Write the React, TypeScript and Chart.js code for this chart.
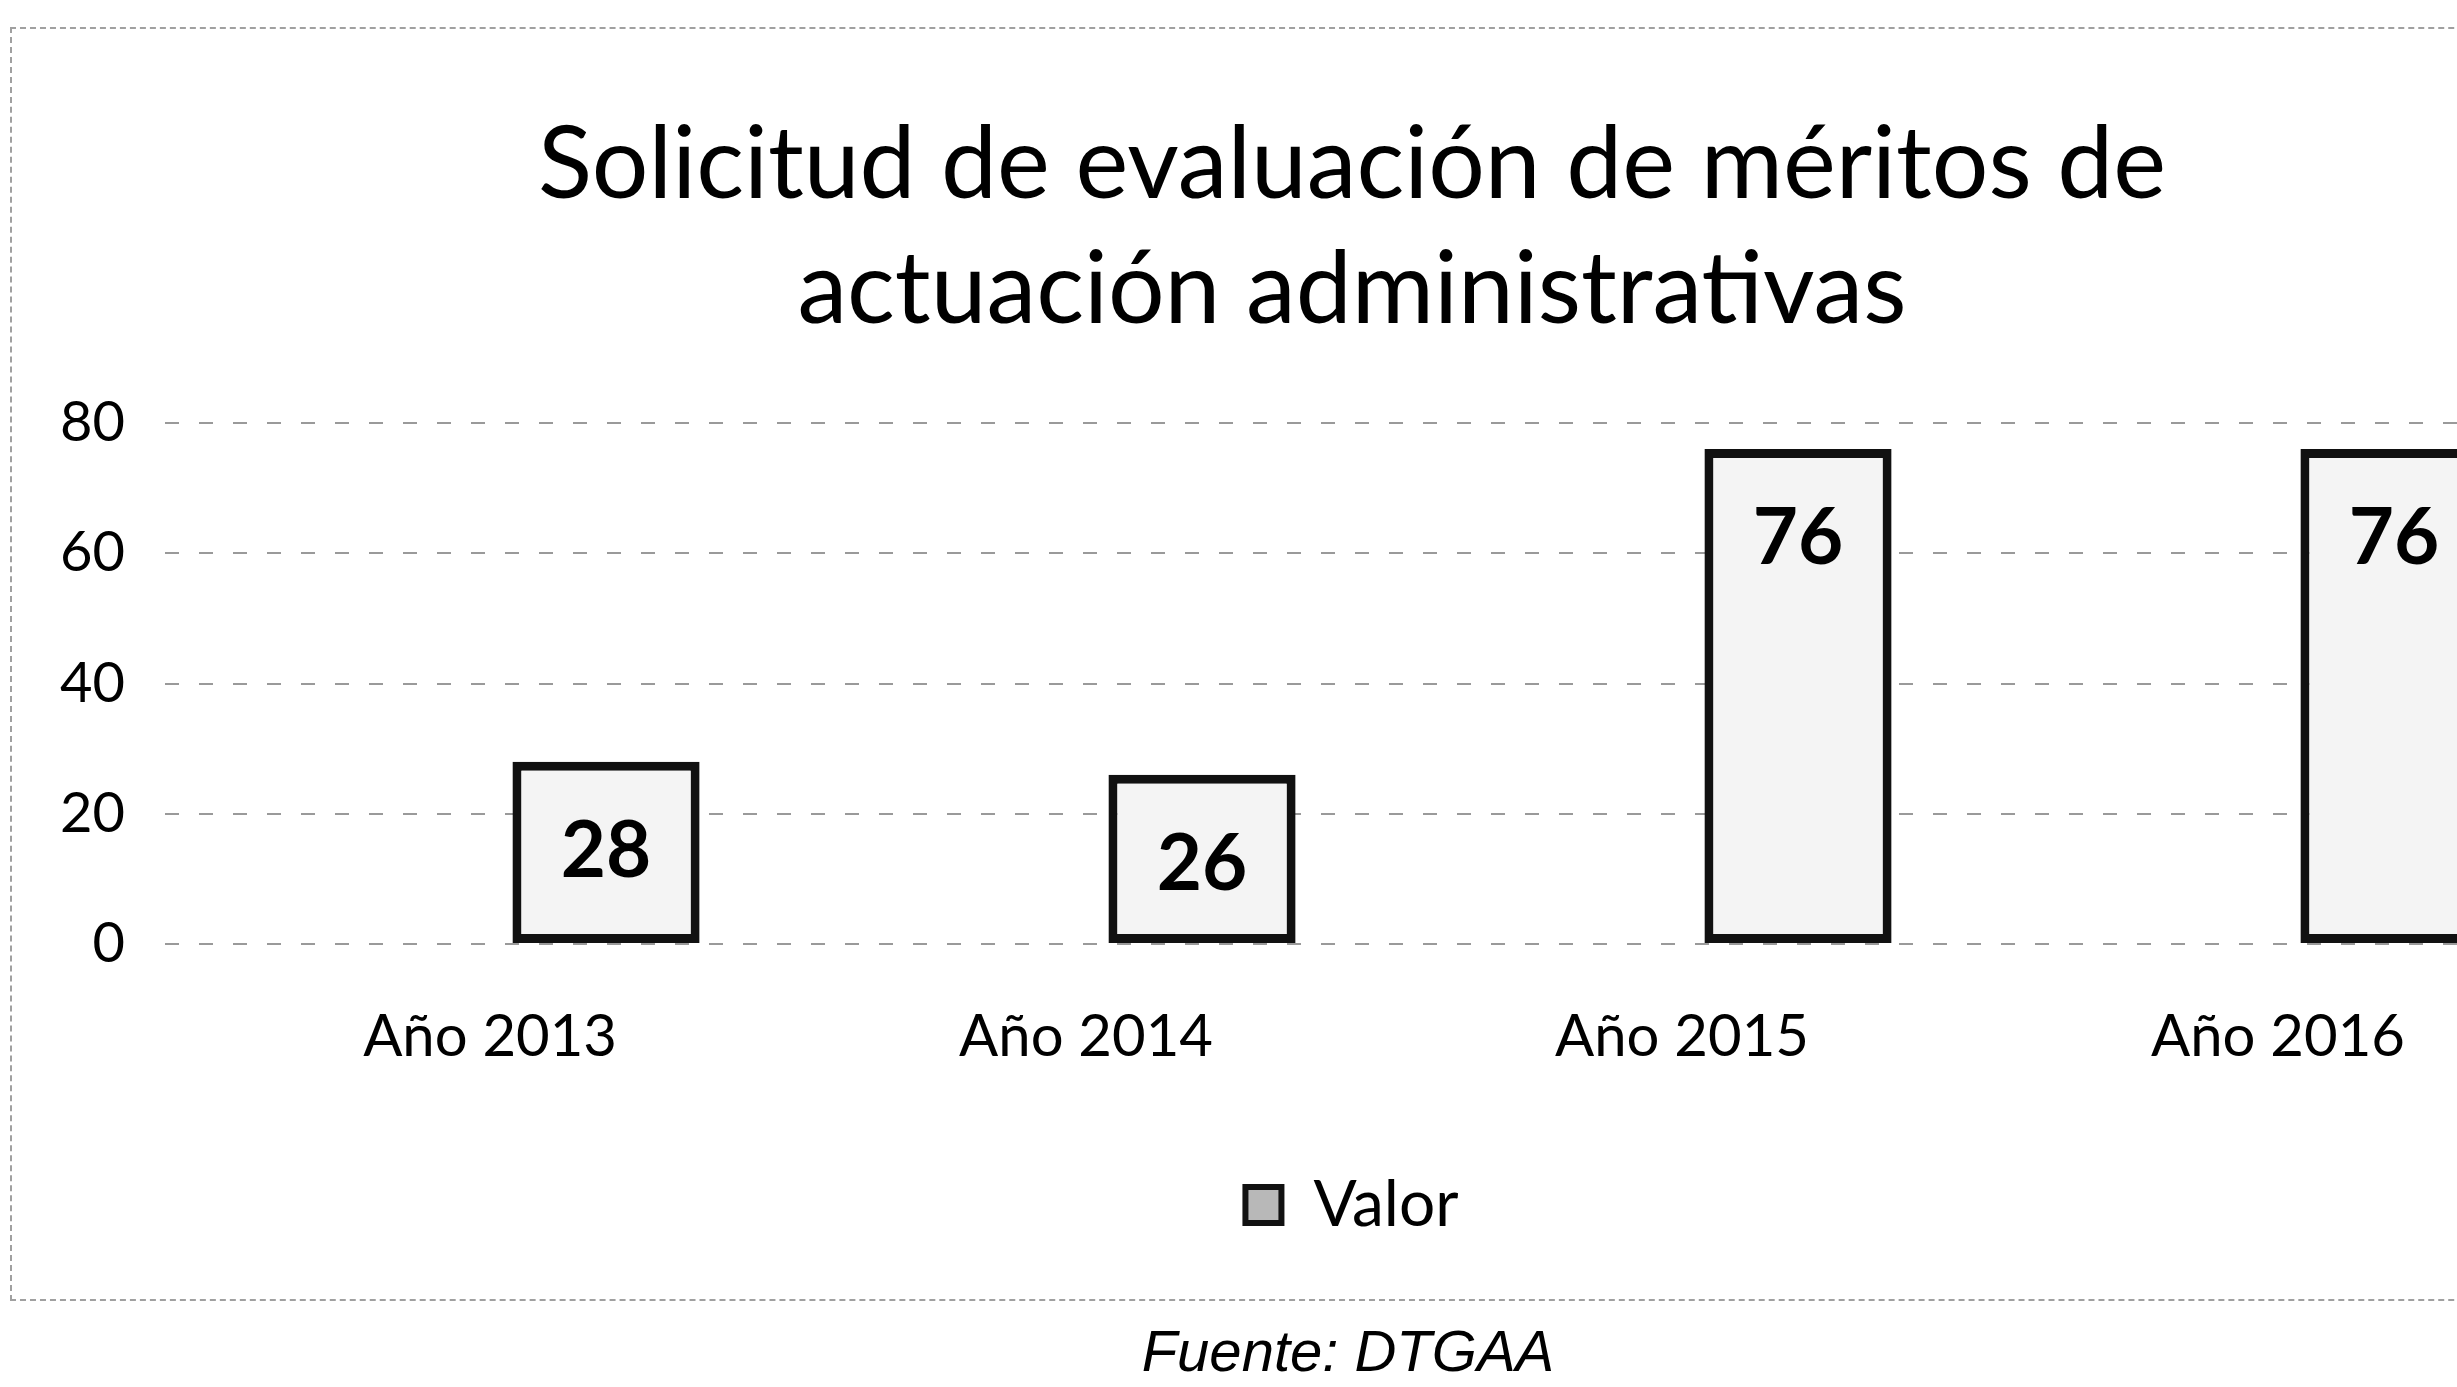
import React, { useEffect, useRef } from 'react';
import { Chart, registerables } from 'chart.js';

Chart.register(...registerables);

const categories = ['Año 2013', 'Año 2014', 'Año 2015', 'Año 2016'];
const values = [28, 26, 76, 76];
const yTicks = [0, 20, 40, 60, 80];
const titleLines = ['Solicitud de evaluación de méritos de', 'actuación administrativas'];
const seriesName = 'Valor';
const sourceText = 'Fuente: DTGAA';

const FONT = 'Lato, "Open Sans", sans-serif';

const valueLabels = {
  id: 'valueLabels',
  afterDatasetsDraw(chart: any) {
    const ctx = chart.ctx;
    const meta = chart.getDatasetMeta(0);
    ctx.save();
    ctx.font = `bold 78px ${FONT}`;
    ctx.fillStyle = '#000';
    ctx.textAlign = 'center';
    ctx.textBaseline = 'middle';
    meta.data.forEach((el: any, i: number) => {
      ctx.fillText(String(values[i]), el.x, el.y + 90);
    });
    ctx.restore();
  },
};

export default function App() {
  const ref = useRef<HTMLCanvasElement | null>(null);

  useEffect(() => {
    if (!ref.current) return;
    const chart = new Chart(ref.current, {
      type: 'bar',
      data: {
        datasets: [
          {
            label: seriesName,
            data: values.map((v, i) => ({ x: i, y: v })),
            backgroundColor: '#f4f4f4',
            borderColor: '#111',
            borderWidth: 9,
            borderSkipped: false,
            categoryPercentage: 1,
            barPercentage: 0.314,
          },
        ],
      },
      options: {
        animation: false,
        responsive: false,
        devicePixelRatio: 1,
        layout: { padding: { left: 0, right: 40, top: 0, bottom: 51 } },
        plugins: {
          tooltip: { enabled: false },
          title: {
            display: true,
            text: titleLines,
            color: '#000',
            font: { family: FONT, size: 100, weight: 'normal', lineHeight: 1.25 },
            padding: { top: 76, bottom: 70 },
          },
          legend: {
            position: 'bottom',
            labels: {
              color: '#000',
              font: { family: FONT, size: 64 },
              boxWidth: 36,
              boxHeight: 36,
              padding: 20,
              generateLabels: (chart: any) =>
                Chart.defaults.plugins.legend.labels
                  .generateLabels(chart)
                  .map((l: any) => ({ ...l, fillStyle: '#b8b8b8', lineWidth: 6 })),
            },
          },
        },
        scales: {
          x: {
            type: 'linear',
            offset: false,
            min: -0.74,
            max: 3.5,
            afterBuildTicks: (s: any) => {
              s.ticks = categories.map((_, i) => ({ value: i }));
            },
            afterFit: (s: any) => {
              s.height = 209;
            },
            ticks: {
              callback: (v: any) => categories[Math.round(Number(v))] ?? '',
              color: '#000',
              font: { family: FONT, size: 58 },
              padding: 58,
              labelOffset: -116,
              autoSkip: false,
              maxRotation: 0,
            },
            grid: { display: false, drawTicks: false },
            border: { display: false },
          },
          y: {
            min: 0,
            max: 80,
            afterBuildTicks: (s: any) => {
              s.ticks = yTicks.map((v) => ({ value: v }));
            },
            afterFit: (s: any) => {
              s.width = 153;
            },
            ticks: {
              color: '#000',
              font: { family: FONT, size: 56 },
              padding: 40,
            },
            grid: { color: '#9a9a9a', lineWidth: 2, drawTicks: false },
            border: { display: false, dash: [14, 20] },
          },
        },
      },
      plugins: [valueLabels],
    } as any);
    return () => chart.destroy();
  }, []);

  return (
    <div
      style={{
        position: 'fixed',
        left: 0,
        top: 0,
        width: 2457,
        height: 1387,
        overflow: 'hidden',
        background: '#fff',
      }}
    >
      <div style={{ position: 'absolute', left: 12, top: 27, width: 2720, height: 1271 }}>
        <canvas ref={ref} width={2720} height={1271} style={{ display: 'block' }} />
      </div>
      <div
        style={{
          position: 'absolute',
          left: 10,
          top: 27,
          width: 2740,
          height: 1270,
          border: '2px dashed #a0a0a0',
          pointerEvents: 'none',
        }}
      />
      <div
        style={{
          position: 'absolute',
          left: 948,
          top: 1316,
          width: 800,
          textAlign: 'center',
          fontFamily: '"Liberation Sans", Arial, sans-serif',
          fontStyle: 'italic',
          fontSize: 58,
          lineHeight: '70px',
          color: '#000',
        }}
      >
        {sourceText}
      </div>
    </div>
  );
}
